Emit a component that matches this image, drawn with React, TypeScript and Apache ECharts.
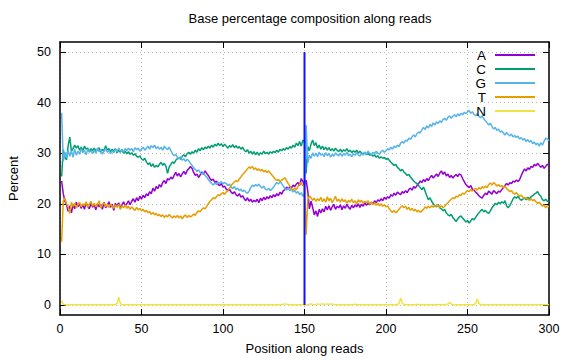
import React, { useEffect, useRef } from "react";
import * as echarts from "echarts";

const baseNames = ["A", "C", "G", "T", "N"];
const baseColors = ["#9400d3", "#009e73", "#56b4e9", "#e69f00", "#f0e442"];
const xTicks = [0, 50, 100, 150, 200, 250, 300];
const yTicks = [0, 10, 20, 30, 40, 50];
const readBoundary = 150;
const boundaryLine = [0, 50];

const valuesA = [
  24.5, 22.0, 20.5, 19.8, 18.5, 19.6, 18.2, 19.9, 19.0, 20.3,
  19.4, 20.0, 19.1, 19.8, 18.9, 20.2, 19.5, 19.0, 20.1, 19.3,
  19.8, 18.8, 20.0, 19.4, 19.9, 18.9, 20.3, 19.2, 19.7, 20.4,
  19.3, 19.9, 18.7, 20.1, 19.5, 20.2, 19.1, 19.8, 20.4, 19.6,
  20.0, 20.6, 19.8, 20.5, 21.0, 20.3, 21.2, 20.6, 21.5, 20.9,
  21.7, 21.2, 22.0, 21.6, 22.4, 22.0, 23.1, 22.5, 23.4, 23.0,
  23.8, 23.3, 24.2, 24.6, 24.0, 25.0, 24.7, 25.3, 24.9, 25.6,
  26.2, 25.5, 26.0, 25.3, 25.9, 26.4, 25.8, 26.6, 26.9, 27.4,
  27.0, 26.2, 25.6, 25.9, 25.2, 25.7, 26.3, 25.8, 26.5, 26.0,
  25.6, 25.0, 24.6, 24.9, 24.2, 24.5, 23.8, 23.6, 24.0, 23.3,
  23.5, 22.9, 22.6, 22.9, 22.3, 22.0, 22.4, 21.8, 21.5, 22.0,
  21.3, 21.6, 21.0, 20.6, 21.2, 20.5, 20.9, 20.3, 20.7, 20.4,
  20.9, 20.2, 21.1, 20.6, 21.3, 20.8, 21.4, 21.0, 21.6, 21.2,
  21.8, 21.4, 22.0, 21.6, 22.3, 21.9, 22.6, 22.8, 23.3, 22.9,
  23.4, 23.1, 23.7, 23.4, 23.9, 24.2, 23.6, 25.0, 24.4, 23.8,
  24.7, 22.5, 19.0, 20.5, 19.3, 17.8, 18.6, 17.5, 18.9, 18.2,
  19.0, 18.4, 19.5, 18.8, 19.6, 18.7, 19.4, 19.9, 18.9, 19.5,
  19.2, 19.8, 18.8, 19.6, 19.1, 19.9, 19.3, 18.9, 19.7, 19.2,
  19.8, 19.4, 20.0, 19.3, 19.9, 19.5, 20.2, 19.7, 20.1, 19.8,
  20.3, 19.9, 20.6, 20.2, 20.8, 20.5, 21.0, 20.6, 21.3, 20.9,
  21.4, 21.1, 21.8, 21.5, 22.1, 21.7, 22.3, 22.0, 21.8, 22.4,
  22.1, 22.6, 22.2, 22.8, 23.1, 22.7, 23.4, 23.1, 23.6, 24.0,
  24.5, 24.2, 24.8, 24.4, 25.0, 24.6, 25.2, 25.6, 25.1, 25.5,
  25.9, 25.4, 26.1, 26.5, 25.8, 26.3, 25.5, 25.9, 25.2, 25.6,
  25.1, 25.5, 25.8, 25.4, 25.9, 25.7, 25.0, 24.4, 23.8, 23.5,
  23.2, 23.6, 22.9, 22.7, 22.3, 22.0, 21.6, 21.3, 21.1, 21.7,
  22.1, 21.8, 22.5, 22.2, 21.9, 22.6, 22.3, 22.0, 22.5, 22.3,
  22.8, 23.2, 23.6, 24.0, 23.7, 24.2, 24.0, 24.5, 24.3, 24.7,
  24.4, 24.8, 25.6, 26.3, 26.9, 26.5, 27.1, 26.8, 27.4, 27.2,
  27.8, 27.5, 28.0, 27.6, 27.2, 27.6, 27.0, 27.4, 27.8, 27.6,
];

const valuesC = [
  25.4, 30.7, 29.2, 28.7, 31.5, 33.2, 30.4, 30.9, 31.6, 31.0,
  31.5, 30.6, 31.2, 30.5, 31.4, 30.8, 31.0, 30.3, 30.9, 30.5,
  31.0, 30.4, 30.7, 31.1, 30.2, 30.8, 30.4, 31.5, 30.6, 30.9,
  30.3, 30.8, 30.4, 30.9, 30.1, 30.6, 30.2, 30.7, 30.0, 30.4,
  29.9, 30.3, 29.8, 30.1, 29.6, 29.9, 29.4, 29.2, 29.5, 28.9,
  28.6, 29.0, 28.3, 27.8, 28.1, 27.4, 27.9, 27.2, 27.6, 27.3,
  27.8, 28.2, 27.6, 28.0, 27.4, 26.0, 27.3, 27.8, 28.3, 28.0,
  28.6, 28.9, 29.1, 28.8, 29.4, 29.7, 29.3, 29.9, 30.2, 29.8,
  30.3, 30.0, 30.6, 30.2, 30.9, 30.5, 31.1, 30.7, 31.2, 30.9,
  31.4, 31.0, 31.6, 31.2, 31.8, 31.4, 32.0, 31.5, 31.9, 31.3,
  31.8, 31.4, 31.0, 31.5, 31.2, 31.7, 31.1, 31.5, 31.0, 31.3,
  30.8, 31.2, 30.6, 30.3, 30.7, 30.0, 30.4, 29.8, 30.3, 29.7,
  30.2, 29.6, 30.1, 29.8, 30.4, 29.9, 30.2, 29.8, 30.3, 30.0,
  30.4, 30.1, 30.6, 30.2, 30.8, 30.5, 30.9, 30.6, 31.1, 30.8,
  31.3, 31.0, 31.6, 31.2, 32.0, 31.5, 32.3, 31.4, 32.6, 32.2,
  26.0, 31.3, 30.5, 31.8, 32.6, 31.5, 32.1, 31.0, 31.6, 30.8,
  31.4, 30.7, 31.2, 30.6, 31.1, 30.5, 30.9, 30.4, 31.0, 30.6,
  30.3, 30.8, 30.2, 30.7, 30.4, 30.9, 30.3, 30.6, 30.1, 30.5,
  30.2, 30.6, 30.0, 30.4, 30.1, 29.8, 30.2, 29.7, 30.0, 29.6,
  29.8, 29.4, 29.7, 29.2, 29.5, 29.0, 29.3, 29.0, 29.2, 28.8,
  29.0, 28.6, 28.2, 27.9, 27.6, 27.8, 27.2, 26.9, 26.5, 26.8,
  26.3, 26.0, 25.6, 25.8, 25.3, 24.9, 24.5, 24.2, 24.0, 23.6,
  23.2, 22.8, 23.3, 22.5, 21.6, 20.8, 21.2, 20.5, 20.0, 19.6,
  19.4, 19.9, 19.2, 19.0, 18.6, 18.9, 18.2, 17.8, 17.6, 17.9,
  17.3, 16.9, 16.5, 17.0, 17.4, 17.6, 17.2, 16.8, 16.4, 16.7,
  16.2, 16.6, 17.1, 16.8, 17.3, 17.8, 18.2, 18.6, 18.9, 18.4,
  18.7, 18.3, 18.1, 18.6, 19.2, 19.6, 20.1, 19.8, 20.3, 20.0,
  20.4, 20.1, 20.6, 19.6, 19.2, 19.7, 20.3, 21.0, 21.4, 21.1,
  21.5, 21.0, 20.7, 20.9, 21.2, 20.8, 21.3, 21.0, 21.4, 21.6,
  21.9, 22.1, 22.4, 21.8, 21.5, 20.8, 20.6, 20.9, 20.5, 20.4,
];

const valuesG = [
  38.0, 28.4, 30.2, 29.1, 30.6, 29.4, 30.5, 29.2, 30.8, 29.6,
  30.4, 29.8, 30.9, 30.1, 30.6, 29.7, 30.8, 30.2, 30.5, 29.9,
  30.6, 30.0, 31.0, 30.3, 30.7, 29.8, 30.4, 30.9, 30.2, 30.6,
  29.9, 30.5, 30.1, 30.8, 30.3, 31.0, 30.4, 30.7, 30.2, 30.9,
  30.5, 31.0, 30.6, 30.9, 30.3, 31.1, 30.7, 31.0, 30.4, 30.8,
  31.2, 30.6, 31.0, 31.4, 30.8, 31.5, 31.1, 31.6, 30.9, 31.3,
  30.8, 31.2, 30.6, 31.4, 31.0, 30.7, 31.2, 30.5, 29.9, 29.5,
  29.8, 29.2, 28.9, 29.3, 28.6, 28.9, 28.4, 28.8, 28.5, 28.0,
  27.6, 27.1, 26.8, 26.4, 26.7, 26.2, 25.9, 26.2, 25.6, 25.3,
  24.8, 24.4, 24.0, 23.7, 24.1, 23.8, 24.3, 24.0, 24.4, 23.9,
  24.2, 24.0, 23.6, 23.9, 23.3, 23.0, 23.4, 22.8, 23.1, 22.6,
  22.9, 22.4, 22.7, 22.3, 22.1, 22.5, 23.2, 23.7, 23.4, 23.8,
  23.5, 23.9, 23.4, 23.1, 23.5, 22.9, 22.7, 23.1, 22.6, 22.9,
  23.3, 23.8, 24.2, 23.9, 24.4, 24.0, 23.5, 23.0, 22.7, 23.1,
  22.6, 22.9, 22.3, 22.7, 22.1, 22.4, 21.8, 22.2, 21.5, 21.9,
  35.6, 28.0, 29.6, 29.0, 30.1, 29.4, 30.0, 29.3, 30.2, 29.6,
  29.9, 29.3, 30.1, 29.5, 30.0, 29.2, 29.8, 29.4, 30.1, 29.7,
  29.5, 30.0, 29.4, 29.9, 29.6, 30.2, 29.5, 29.8, 29.3, 29.9,
  29.6, 30.1, 29.7, 29.4, 30.0, 29.6, 30.2, 29.8, 30.4, 30.0,
  29.7, 30.2, 29.9, 30.4, 30.0, 29.8, 30.3, 30.6, 30.2, 30.5,
  30.9, 30.6, 31.2, 30.8, 31.4, 31.1, 31.6, 31.3, 32.0, 32.3,
  32.0, 32.6, 32.4, 33.0, 32.7, 33.3, 33.6, 33.2, 33.9, 34.2,
  34.0, 34.6, 35.1, 34.7, 35.4, 35.0, 35.7, 35.3, 36.0, 35.6,
  36.2, 35.9, 36.4, 36.1, 36.7, 36.9, 36.5, 37.1, 37.4, 36.9,
  37.3, 37.6, 37.2, 37.8, 37.4, 37.9, 37.6, 38.1, 37.8, 38.2,
  38.4, 37.9, 38.2, 37.7, 37.4, 37.8, 37.3, 37.0, 37.4, 36.8,
  36.4, 36.0, 35.6, 35.9, 35.3, 34.8, 35.1, 34.5, 34.8, 34.2,
  34.4, 34.0, 33.6, 34.1, 33.7, 33.4, 33.8, 33.2, 33.5, 33.1,
  33.4, 32.8, 33.1, 32.6, 32.9, 32.3, 32.7, 32.2, 32.5, 31.9,
  32.2, 31.7, 32.0, 31.4, 32.1, 31.6, 32.4, 33.0, 32.8, 32.5,
];

const valuesT = [
  12.5, 20.6, 21.1, 20.0, 19.4, 18.1, 20.3, 19.5, 20.1, 19.2,
  19.8, 20.3, 19.4, 20.0, 19.6, 20.4, 19.3, 19.9, 20.5, 19.5,
  20.1, 19.4, 19.9, 20.6, 19.2, 19.8, 20.2, 19.4, 19.9, 19.3,
  20.0, 19.5, 19.1, 19.8, 19.3, 19.9, 18.9, 19.6, 19.2, 19.8,
  19.1, 19.5, 18.9, 19.4, 19.0, 18.7, 19.3, 18.8, 19.1, 18.6,
  18.9, 18.4, 18.7, 18.2, 18.5, 17.9, 18.3, 17.8, 18.1, 17.6,
  17.9, 17.5, 17.8, 17.3, 17.7, 17.4, 17.9, 17.5, 17.2, 17.6,
  17.3, 17.7, 17.2, 17.6, 17.0, 17.5, 17.8, 17.3, 17.7, 17.4,
  17.6, 18.0, 17.7, 18.3, 18.6, 18.4, 18.9, 19.2, 19.0, 19.5,
  20.0, 20.5, 20.8, 21.2, 21.0, 21.4, 21.8, 21.6, 22.0, 22.2,
  21.9, 22.3, 22.6, 23.1, 23.6, 24.0, 24.3, 24.6, 24.4, 24.9,
  25.3, 25.8, 26.1, 26.5, 26.9, 27.3, 27.0, 27.4, 26.8, 27.1,
  26.6, 26.9, 26.5, 26.8, 26.3, 26.6, 26.2, 26.5, 26.1, 25.7,
  25.3, 24.9, 24.6, 24.8, 24.4, 24.7, 24.9, 25.2, 24.6, 24.0,
  23.5, 23.0, 22.7, 23.1, 22.8, 23.4, 23.8, 24.2, 23.6, 23.9,
  13.9, 20.8, 21.6, 21.2, 20.7, 21.1, 20.5, 21.0, 20.6, 21.3,
  20.4, 21.0, 20.3, 21.4, 20.6, 21.1, 20.2, 20.8, 21.5, 20.5,
  20.9, 20.3, 21.0, 20.4, 20.8, 20.1, 20.7, 20.3, 20.9, 20.2,
  20.6, 20.0, 20.8, 20.3, 20.7, 20.1, 20.5, 20.2, 20.6, 19.9,
  20.3, 19.8, 20.2, 19.7, 20.1, 19.6, 20.0, 19.5, 19.8, 19.4,
  19.6, 19.0, 18.6, 18.3, 18.7, 18.2, 18.5, 18.9, 19.3, 19.6,
  19.2, 19.5, 18.9, 19.3, 18.7, 19.1, 18.6, 18.9, 18.4, 18.7,
  18.3, 18.6, 18.9, 19.4, 19.1, 19.5, 19.2, 19.6, 19.3, 19.7,
  19.4, 19.8, 19.3, 19.6, 19.2, 19.5, 19.9, 20.2, 20.6, 20.9,
  21.2, 21.0, 21.5, 21.3, 21.8, 21.6, 22.1, 21.9, 22.3, 22.6,
  22.4, 22.8, 22.5, 22.9, 23.0, 22.7, 23.2, 22.9, 23.4, 23.1,
  23.5, 23.2, 23.8, 24.1, 23.7, 24.2, 23.9, 23.5, 23.8, 23.4,
  23.6, 23.2, 23.5, 23.0, 22.7, 22.4, 22.6, 22.1, 21.9, 22.2,
  21.8, 21.5, 21.7, 21.3, 21.0, 21.2, 20.9, 20.7, 21.0, 20.6,
  20.8, 20.4, 20.1, 20.3, 19.9, 19.5, 19.8, 19.2, 19.6, 19.4,
];

const valuesN = [
  0.85, 0.1, 0.05, 0.05, 0.05, 0.05, 0.05, 0.05, 0.05, 0.05,
  0.05, 0.05, 0.05, 0.05, 0.05, 0.05, 0.05, 0.05, 0.05, 0.05,
  0.05, 0.05, 0.05, 0.05, 0.05, 0.05, 0.05, 0.05, 0.05, 0.05,
  0.05, 0.05, 0.05, 0.05, 0.3, 1.5, 0.3, 0.05, 0.05, 0.05,
  0.05, 0.05, 0.05, 0.05, 0.05, 0.05, 0.05, 0.05, 0.05, 0.05,
  0.05, 0.05, 0.05, 0.05, 0.05, 0.05, 0.05, 0.05, 0.05, 0.05,
  0.05, 0.05, 0.05, 0.05, 0.05, 0.05, 0.05, 0.05, 0.05, 0.05,
  0.05, 0.05, 0.05, 0.05, 0.05, 0.05, 0.05, 0.05, 0.05, 0.05,
  0.05, 0.05, 0.05, 0.05, 0.05, 0.05, 0.05, 0.05, 0.05, 0.05,
  0.05, 0.05, 0.05, 0.05, 0.05, 0.05, 0.05, 0.05, 0.05, 0.05,
  0.05, 0.05, 0.05, 0.05, 0.05, 0.05, 0.05, 0.05, 0.05, 0.05,
  0.05, 0.05, 0.05, 0.05, 0.05, 0.05, 0.05, 0.05, 0.05, 0.05,
  0.05, 0.05, 0.05, 0.05, 0.05, 0.05, 0.05, 0.05, 0.05, 0.05,
  0.05, 0.05, 0.05, 0.05, 0.05, 0.05, 0.15, 0.2, 0.15, 0.05,
  0.05, 0.05, 0.05, 0.05, 0.05, 0.05, 0.05, 0.05, 0.05, 0.05,
  0.05, 0.05, 0.15, 0.2, 0.1, 0.05, 0.1, 0.2, 0.1, 0.15,
  0.2, 0.1, 0.15, 0.2, 0.1, 0.2, 0.15, 0.1, 0.05, 0.05,
  0.05, 0.05, 0.05, 0.05, 0.05, 0.05, 0.05, 0.05, 0.05, 0.05,
  0.15, 0.05, 0.05, 0.05, 0.05, 0.05, 0.05, 0.05, 0.05, 0.05,
  0.05, 0.05, 0.05, 0.05, 0.05, 0.05, 0.05, 0.05, 0.05, 0.05,
  0.05, 0.05, 0.05, 0.05, 0.05, 0.05, 0.05, 0.3, 1.3, 0.3,
  0.05, 0.05, 0.05, 0.05, 0.05, 0.05, 0.05, 0.05, 0.15, 0.05,
  0.05, 0.05, 0.05, 0.05, 0.05, 0.05, 0.05, 0.05, 0.05, 0.05,
  0.05, 0.1, 0.05, 0.05, 0.05, 0.05, 0.05, 0.2, 0.5, 0.2,
  0.05, 0.05, 0.05, 0.05, 0.05, 0.05, 0.05, 0.05, 0.05, 0.05,
  0.05, 0.05, 0.05, 0.05, 0.3, 1.2, 0.3, 0.05, 0.05, 0.05,
  0.05, 0.05, 0.05, 0.05, 0.05, 0.05, 0.05, 0.05, 0.05, 0.05,
  0.05, 0.05, 0.05, 0.05, 0.05, 0.05, 0.05, 0.05, 0.05, 0.05,
  0.05, 0.05, 0.05, 0.05, 0.05, 0.05, 0.05, 0.05, 0.05, 0.05,
  0.05, 0.05, 0.05, 0.05, 0.05, 0.05, 0.05, 0.05, 0.05, 0.05,
];

const positions = valuesA.map((_, i) => i + 1);
const seriesValues = [valuesA, valuesC, valuesG, valuesT, valuesN];

const FONT = "'Liberation Sans', Arial, sans-serif";

export default function App() {
  const ref = useRef<HTMLDivElement>(null);
  useEffect(() => {
    if (!ref.current) return;
    const chart = echarts.init(ref.current, null, { renderer: "svg" });
    const axisLine = { show: true, onZero: false, lineStyle: { color: "#000", width: 1.5 } };
    const tickStyle = { show: true, inside: true, length: 6, lineStyle: { color: "#000", width: 1 } };
    const gridLine = { show: true, lineStyle: { color: "#b8b8b8", type: [1, 3], width: 1 } };
    const labelStyle = { color: "#000", fontFamily: FONT, fontSize: 12.5 };

    const series: any[] = baseNames.map((name, k) => ({
      name,
      type: "line",
      data: positions.map((p, i) => [p, seriesValues[k][i]]),
      showSymbol: false,
      symbol: "none",
      lineStyle: { color: baseColors[k], width: 1.5 },
      itemStyle: { color: baseColors[k] },
      z: 3,
    }));
    series.push({
      name: "boundary",
      type: "line",
      data: boundaryLine.map((v) => [readBoundary, v]),
      showSymbol: false,
      symbol: "none",
      lineStyle: { color: "#1010ff", width: 2 },
      z: 5,
      silent: true,
    });

    chart.setOption({
      animation: false,
      backgroundColor: "#fff",
      textStyle: { fontFamily: FONT },
      title: {
        text: "Base percentage composition along reads",
        left: 305,
        top: 7,
        textAlign: "center",
        textStyle: { fontFamily: FONT, fontSize: 13, fontWeight: "normal", color: "#000" },
      },
      legend: {
        data: baseNames,
        orient: "vertical",
        align: "right",
        right: 36,
        top: 43,
        icon: "rect",
        itemWidth: 40,
        itemHeight: 2,
        itemGap: 0,
        textStyle: { fontFamily: FONT, fontSize: 13.5, color: "#000", lineHeight: 14, padding: [0, 4, 0, 0] },
      },
      grid: { left: 60, right: 27, top: 42, bottom: 45, containLabel: false, outerBoundsMode: "none" },
      xAxis: [
        {
          type: "value",
          min: 0,
          max: 300,
          interval: 50,
          position: "bottom",
          axisLine,
          axisTick: tickStyle,
          axisLabel: { ...labelStyle, margin: 7 },
          splitLine: gridLine,
          name: "Position along reads",
          nameLocation: "middle",
          nameGap: 27,
          nameTextStyle: { ...labelStyle, fontSize: 13 },
        },
        {
          type: "value",
          min: 0,
          max: 300,
          interval: 50,
          position: "top",
          axisLine,
          axisTick: tickStyle,
          axisLabel: { show: false },
          splitLine: { show: false },
        },
      ],
      yAxis: [
        {
          type: "value",
          min: -2,
          max: 52,
          position: "left",
          axisLine,
          axisTick: { ...tickStyle, customValues: yTicks },
          axisLabel: { ...labelStyle, margin: 9, customValues: yTicks },
          splitLine: gridLine,
          name: "Percent",
          nameLocation: "middle",
          nameGap: 40,
          nameRotate: 90,
          nameTextStyle: { ...labelStyle, fontSize: 13 },
        },
        {
          type: "value",
          min: -2,
          max: 52,
          position: "right",
          axisLine,
          axisTick: { ...tickStyle, customValues: yTicks },
          axisLabel: { show: false, customValues: yTicks },
          splitLine: { show: false },
        },
      ],
      series,
    });
    return () => chart.dispose();
  }, []);
  return (
    <div
      ref={ref}
      style={{ position: "absolute", left: 0, top: 0, width: 576, height: 360, background: "#fff" }}
    />
  );
}
